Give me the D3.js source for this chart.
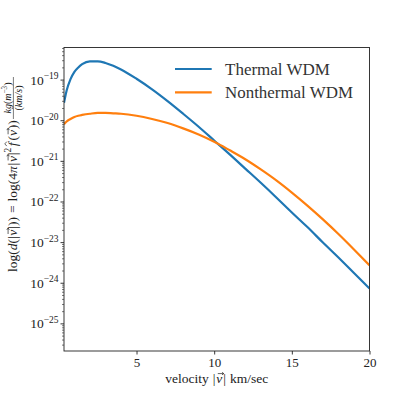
<!DOCTYPE html>
<html>
<head>
<meta charset="utf-8">
<script src="https://cdn.jsdelivr.net/npm/d3@7"></script>
<style>
  html, body { margin: 0; padding: 0; background: #fff; }
  svg { display: block; }
</style>
</head>
<body>
<svg id="chart" width="395" height="395"></svg>
<script>
// ---- data ----
const velocity = [0.33, 0.4, 0.5, 0.75, 1, 1.25, 1.5, 2, 2.5, 3, 3.5, 4, 5, 6, 7, 8, 9, 10,
                  11, 12, 13, 14, 15, 16, 17, 18, 19, 20];
// log10 of density values
const thermalLog = [-19.57, -19.44, -19.27, -18.99, -18.81, -18.70, -18.62, -18.55, -18.55, -18.59,
                    -18.66, -18.75, -18.98, -19.24, -19.53, -19.84, -20.16, -20.50,
                    -20.84, -21.19, -21.54, -21.90, -22.27, -22.63, -23.01, -23.38, -23.76, -24.14];
const nonthermalLog = [-20.10, -20.07, -20.03, -19.97, -19.92, -19.89, -19.87, -19.84, -19.82, -19.82,
                       -19.83, -19.84, -19.89, -19.97, -20.07, -20.20, -20.35, -20.53,
                       -20.74, -20.96, -21.21, -21.48, -21.78, -22.10, -22.44, -22.80, -23.18, -23.57];
const seriesNames = ["Thermal WDM", "Nonthermal WDM"];
const seriesColors = ["#1f77b4", "#ff7f0e"];
const xTicks = [5, 10, 15, 20];
const yTickExps = [-25, -24, -23, -22, -21, -20, -19];
const xDomain = [0.33, 20];
const yDomainExp = [-25.68, -18.21];

const FONT = "Liberation Serif";
const INK = "#222";

// ---- layout ----
const svg = d3.select("#chart");
const L = 64, R = 369.5, T = 47.5, B = 351;

const x = d3.scaleLinear().domain(xDomain).range([L, R]);
const y = d3.scaleLog().domain(yDomainExp.map(e => Math.pow(10, e))).range([B, T]);

const series = [thermalLog, nonthermalLog].map((arr, i) => ({
  name: seriesNames[i], color: seriesColors[i],
  pts: velocity.map((v, j) => ({ v, d: Math.pow(10, arr[j]) }))
}));

svg.append("defs").append("clipPath").attr("id", "clip")
  .append("rect").attr("x", L).attr("y", T).attr("width", R - L).attr("height", B - T);

const line = d3.line().x(p => x(p.v)).y(p => y(p.d)).curve(d3.curveMonotoneX);

svg.append("g").attr("clip-path", "url(#clip)")
  .selectAll("path").data(series).join("path")
  .attr("d", s => line(s.pts))
  .attr("fill", "none")
  .attr("stroke", s => s.color)
  .attr("stroke-width", 2.2)
  .attr("stroke-linejoin", "round");

// frame
svg.append("rect").attr("x", L).attr("y", T).attr("width", R - L).attr("height", B - T)
  .attr("fill", "none").attr("stroke", INK).attr("stroke-width", 0.9);

// x axis
const xAxis = d3.axisBottom(x).tickValues(xTicks).tickFormat(d3.format("d"))
  .tickSize(3.5).tickPadding(4);
const gx = svg.append("g").attr("transform", `translate(0,${B})`).call(xAxis);
gx.select(".domain").remove();
gx.attr("font-family", FONT);
gx.selectAll(".tick line").attr("stroke", INK).attr("stroke-width", 0.9);
gx.selectAll(".tick text").attr("font-size", 13).attr("fill", INK)
  .attr("font-family", FONT).attr("dy", "0.71em").attr("y", 7);

// y axis major ticks
const majorVals = yTickExps.map(e => Math.pow(10, e));
const gy = svg.append("g").attr("transform", `translate(${L},0)`)
  .call(d3.axisLeft(y).tickValues(majorVals).tickFormat("").tickSize(3.5));
gy.select(".domain").remove();
gy.selectAll(".tick line").attr("stroke", INK).attr("stroke-width", 0.9);

// minor ticks
const minorVals = [];
for (let e = -26; e <= -18; e++) {
  for (let k = 2; k <= 9; k++) {
    const val = k * Math.pow(10, e);
    const le = Math.log10(val);
    if (le >= yDomainExp[0] && le <= yDomainExp[1]) minorVals.push(val);
  }
}
const gym = svg.append("g").attr("transform", `translate(${L},0)`)
  .call(d3.axisLeft(y).tickValues(minorVals).tickFormat("").tickSize(2));
gym.select(".domain").remove();
gym.selectAll(".tick line").attr("stroke", INK).attr("stroke-width", 0.6);

// y tick labels 10^n
yTickExps.forEach(e => {
  const t = svg.append("text")
    .attr("x", 58.5).attr("y", y(Math.pow(10, e)) + 5)
    .attr("text-anchor", "end").attr("font-size", 13.5)
    .attr("font-family", FONT).attr("fill", INK);
  t.append("tspan").text("10");
  t.append("tspan").attr("dy", -5.5).attr("font-size", 9.5).text("\u2212" + Math.abs(e));
});

// ---- small math-text layout helper (measures pieces, draws vector arrows / hats) ----
function mathText(parent, pieces, fs, x0, y0, anchor) {
  const g = parent.append("g");
  let cx = 0;
  pieces.forEach(p => {
    cx += (p.pre || 0) * fs;
    const size = fs * (p.s || 1);
    const yy = (p.dy || 0) * fs;
    const t = g.append("text").attr("x", cx).attr("y", yy)
      .attr("font-size", size).attr("font-style", p.it ? "italic" : "normal")
      .attr("font-family", FONT).attr("fill", INK).text(p.t);
    const w = t.node().getComputedTextLength();
    if (p.arrow) {
      const a = cx + 0.12 * fs, b = cx + w + 0.12 * fs, ay = yy - 0.66 * fs;
      g.append("path")
        .attr("d", `M${a},${ay}L${b},${ay}M${b - 1.8},${ay - 1.3}L${b},${ay}L${b - 1.8},${ay + 1.3}`)
        .attr("fill", "none").attr("stroke", INK).attr("stroke-width", 0.7);
    }
    if (p.hat) {
      const m = cx + w * 0.62, hy = yy - 0.86 * fs;
      g.append("path")
        .attr("d", `M${m - 2.2},${hy + 1.4}L${m},${hy - 0.6}L${m + 2.2},${hy + 1.4}`)
        .attr("fill", "none").attr("stroke", INK).attr("stroke-width", 0.7);
    }
    cx += w + (p.gap || 0) * fs;
  });
  const off = anchor === "middle" ? -cx / 2 : anchor === "end" ? -cx : 0;
  g.attr("transform", `translate(${x0 + off},${y0})`);
  return cx;
}

// x label
mathText(svg, [
  { t: "velocity", gap: 0.3 }, { t: "|", gap: 0.05 }, { t: "v", it: true, arrow: true, gap: 0.08 },
  { t: "|", gap: 0.3 }, { t: "km/sec" }
], 13.5, (L + R) / 2, 382.5, "middle");

// y label (rotated)
const gl = svg.append("g").attr("transform", "translate(17,272) rotate(-90)");
const yPieces = [
  { t: "log(" }, { t: "d", it: true }, { t: "(|", gap: 0.05 }, { t: "v", it: true, arrow: true, gap: 0.06 },
  { t: "|))", gap: 0.3 }, { t: "=", gap: 0.3 }, { t: "log(4" }, { t: "\u03C0", it: true, gap: 0.05 },
  { t: "|", gap: 0.05 }, { t: "v", it: true, arrow: true, gap: 0.06 }, { t: "|" },
  { t: "2", s: 0.7, dy: -0.42, gap: 0.12 }, { t: "f", it: true, hat: true, gap: 0.15 },
  { t: "(" }, { t: "v", it: true, arrow: true, gap: 0.06 }, { t: "))" }
];
mathText(gl, yPieces, 13.5, 0, 0, "start");

// fraction kg(m^-3)/(km/s)
const fc = 174;
gl.append("line").attr("x1", fc - 21).attr("x2", fc + 21).attr("y1", -3.6).attr("y2", -3.6)
  .attr("stroke", INK).attr("stroke-width", 0.6);
mathText(gl, [
  { t: "kg", it: true }, { t: "(" }, { t: "m", it: true }, { t: "\u22123", s: 0.72, dy: -0.38 }, { t: ")" }
], 10, fc, -6, "middle");
mathText(gl, [
  { t: "(" }, { t: "km/s", it: true }, { t: ")" }
], 10, fc, 4.5, "middle");

// legend
const legY = [69, 92.3];
const legW = [105, 128];
series.forEach((s, i) => {
  svg.append("line").attr("x1", 175).attr("x2", 211.7).attr("y1", legY[i]).attr("y2", legY[i])
    .attr("stroke", s.color).attr("stroke-width", 2.2);
  svg.append("text").attr("x", 225).attr("y", legY[i] + 6).attr("font-size", 17.5)
    .attr("font-family", FONT).attr("fill", "#333")
    .attr("textLength", legW[i]).attr("lengthAdjust", "spacingAndGlyphs")
    .text(s.name);
});
</script>
</body>
</html>
